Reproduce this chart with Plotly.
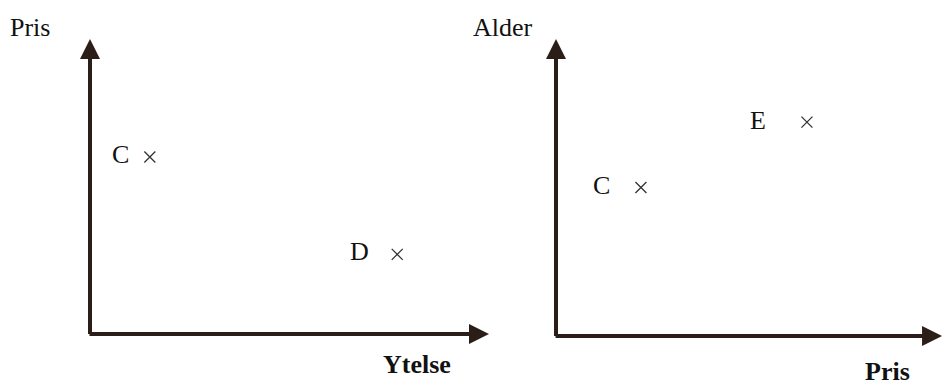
import plotly.graph_objects as go

# Left diagram: Pris vs Ytelse
left_labels = ["C", "D"]
left_x = [1.5, 7.7]
left_y = [6.0, 2.7]
left_label_shift = [-29, -38]

# Right diagram: Alder vs Pris
right_labels = ["E", "C"]
right_x = [6.5, 2.2]
right_y = [7.2, 5.0]
right_label_shift = [-49, -39]

axis_titles = {"left_y": "Pris", "left_x": "Ytelse", "right_y": "Alder", "right_x": "Pris"}

W, H = 944, 385
FONT = "Liberation Serif, Times New Roman, serif"
AXC = "#2b1d17"
MC = "#333333"

fig = go.Figure()
mk = dict(symbol="x-thin-open", size=11, color=MC, line=dict(width=1.3, color=MC))
fig.add_trace(go.Scatter(x=left_x, y=left_y, mode="markers", xaxis="x", yaxis="y",
                         marker=mk, hoverinfo="skip", showlegend=False))
fig.add_trace(go.Scatter(x=right_x, y=right_y, mode="markers", xaxis="x2", yaxis="y2",
                         marker=mk, hoverinfo="skip", showlegend=False))

ann = []
for lab, x, y, s in zip(left_labels, left_x, left_y, left_label_shift):
    ann.append(dict(x=x, y=y, xref="x", yref="y", text=lab, showarrow=False, xshift=s, yshift=3,
                    font=dict(family=FONT, size=26, color="#111")))
for lab, x, y, s in zip(right_labels, right_x, right_y, right_label_shift):
    ann.append(dict(x=x, y=y, xref="x2", yref="y2", text=lab, showarrow=False, xshift=s, yshift=2,
                    font=dict(family=FONT, size=26, color="#111")))

# axis arrows
def arrow(xr, yr, x, y, ax, ay):
    return dict(x=x, y=y, ax=ax, ay=ay, xref=xr, yref=yr, axref=xr, ayref=yr, text="",
                showarrow=True, arrowhead=2, arrowsize=1.0, arrowwidth=4, arrowcolor=AXC, standoff=0)

ann.append(arrow("x", "y", 0, 10, 0, -0.05))
ann.append(arrow("x", "y", 10, 0, -0.05, 0))
ann.append(arrow("x2", "y2", 0, 10, 0, -0.05))
ann.append(arrow("x2", "y2", 10, 0, -0.05, 0))

def ptitle(text, px, py, bold=False):
    t = f"<b>{text}</b>" if bold else text
    return dict(x=px / W, y=1 - py / H, xref="paper", yref="paper", text=t, showarrow=False,
                xanchor="center", yanchor="middle", font=dict(family=FONT, size=26, color="#111"))

ann.append(ptitle(axis_titles["left_y"], 30, 27))
ann.append(ptitle(axis_titles["right_y"], 503, 27))
ann.append(ptitle(axis_titles["left_x"], 417, 364, bold=True))
ann.append(ptitle(axis_titles["right_x"], 887, 371, bold=True))

hidden = dict(visible=False, showgrid=False, zeroline=False, fixedrange=True)
fig.update_layout(
    width=W, height=H, margin=dict(l=0, r=0, t=0, b=0),
    paper_bgcolor="white", plot_bgcolor="rgba(0,0,0,0)",
    xaxis=dict(domain=[90 / W, 489 / W], range=[0, 10], **hidden),
    yaxis=dict(domain=[1 - 334 / H, 1 - 39 / H], range=[0, 10], **hidden),
    xaxis2=dict(domain=[556 / W, 1.0], range=[0, 10.05], anchor="y2", **hidden),
    yaxis2=dict(domain=[1 - 336 / H, 1 - 39 / H], range=[0, 10], anchor="x2", **hidden),
    annotations=ann,
)
fig.write_html("out.html", config={"displayModeBar": False},
               post_script="document.body.style.margin='0';document.body.style.overflow='hidden';")
